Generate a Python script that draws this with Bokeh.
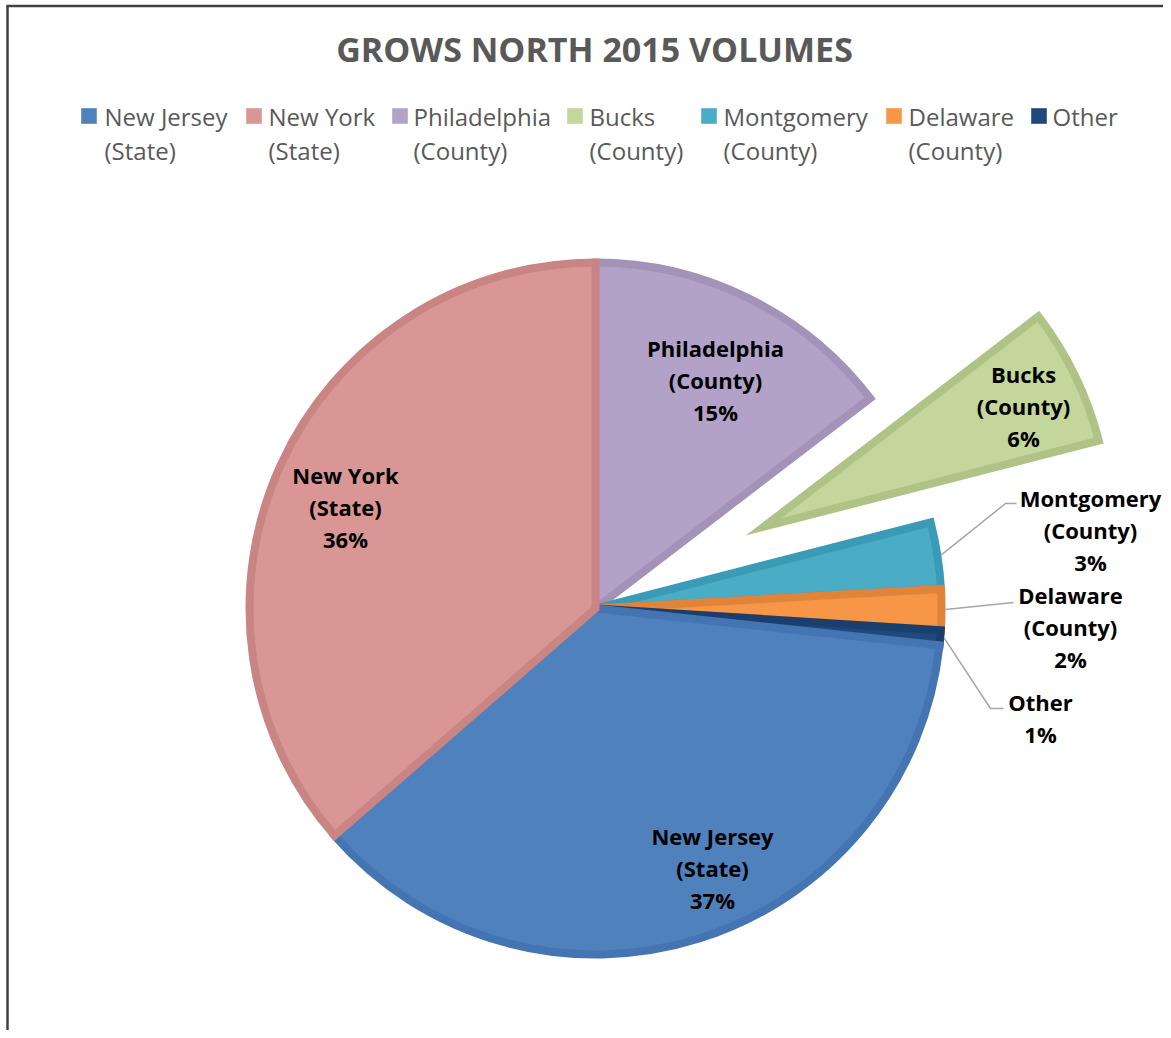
import math
from bokeh.plotting import figure
from bokeh.models import Range1d, ColumnDataSource
from bokeh.core.properties import value
from bokeh.embed import file_html
from bokeh.resources import INLINE

# ---------------- data ----------------
slice_names = ["Philadelphia", "Bucks", "Montgomery", "Delaware", "Other", "New Jersey", "New York"]
slice_kinds = ["(County)", "(County)", "(County)", "(County)", "", "(State)", "(State)"]
slice_shares = [14.6, 6.4, 3.1, 1.9, 0.7, 36.9, 36.4]
slice_fills = ["#b2a2c7", "#c3d69b", "#4bacc6", "#f79646", "#1f497d", "#4f81bd", "#d99694"]
slice_edges = ["#a393b9", "#afc387", "#3b9ab5", "#e0843a", "#1a3f6e", "#4475b2", "#c98584"]
slice_explode = [0, 187, 0, 0, 0, 0, 0]

legend_names = ["New Jersey", "New York", "Philadelphia", "Bucks", "Montgomery", "Delaware", "Other"]
legend_kinds = ["(State)", "(State)", "(County)", "(County)", "(County)", "(County)", ""]

title_text = "GROWS NORTH 2015 VOLUMES"

# ---------------- layout ----------------
W, H = 1163, 1030
FONT = "Open Sans"
GREY = "#595959"


def X(sx):
    return sx


def Y(sy):
    return H - sy


CX, CY, R = X(595), Y(608), 350

label_pos = {  # screen centre of each data label block
    "Philadelphia": (715, 379),
    "Bucks": (1023, 405),
    "Montgomery": (1090, 529),
    "Delaware": (1070, 626),
    "Other": (1040, 717),
    "New Jersey": (712, 867),
    "New York": (345, 506),
}
LINE_H = 32
leader_pts = {  # elbow/end points of leader lines (screen)
    "Montgomery": [(1005, 503), (1016, 503)],
    "Delaware": [(1013, 602)],
    "Other": [(990, 708), (1003, 708)],
}
legend_swatch_x = [80, 245, 391, 566, 700, 885, 1030]
legend_text_x = [104, 268, 413, 589, 723, 908, 1052]

p = figure(width=W, height=H, x_range=Range1d(0, W), y_range=Range1d(0, H),
           output_backend="svg", toolbar_location=None, min_border=0)
p.xaxis.visible = False
p.yaxis.visible = False
p.grid.visible = False
p.outline_line_color = None
p.background_fill_color = "white"

# frame lines (left and top)
p.line([X(7), X(7)], [0, Y(5)], line_color="#404040", line_width=2.5)
p.line([X(6), W], [Y(5.5), Y(5.5)], line_color="#404040", line_width=2.5)

# ---------------- pie ----------------
total = sum(slice_shares)
cum = 0.0
xs, ys, starts, ends, mids = [], [], [], [], []
for share, exp in zip(slice_shares, slice_explode):
    t1 = cum / total * 2 * math.pi
    t2 = (cum + share) / total * 2 * math.pi
    cum += share
    tm = (t1 + t2) / 2
    mids.append(tm)
    xs.append(CX + exp * math.sin(tm))
    ys.append(CY + exp * math.cos(tm))
    starts.append(math.pi / 2 - t2)
    ends.append(math.pi / 2 - t1)

src = ColumnDataSource(dict(x=xs, y=ys, start=starts, end=ends,
                            fill=slice_fills, edge=slice_edges))
p.wedge(x="x", y="y", radius=R - 4, start_angle="start", end_angle="end",
        fill_color="fill", line_color="edge", line_width=8, line_join="miter",
        source=src)

# leader lines
for name, pts in leader_pts.items():
    i = slice_names.index(name)
    tm = mids[i]
    lx = [xs[i] + R * math.sin(tm)] + [X(a) for a, b in pts]
    ly = [ys[i] + R * math.cos(tm)] + [Y(b) for a, b in pts]
    p.line(lx, ly, line_color="#a6a6a6", line_width=1.5)

# data labels (one glyph row per text line)
lab_x, lab_y, lab_t = [], [], []
for name, kind, share in zip(slice_names, slice_kinds, slice_shares):
    pct = f"{round(share / total * 100):d}%"
    lines = [name] + ([kind] if kind else []) + [pct]
    sx, sy = label_pos[name]
    n = len(lines)
    for k, ln in enumerate(lines):
        lab_x.append(X(sx))
        lab_y.append(Y(sy + (k - (n - 1) / 2) * LINE_H))
        lab_t.append(ln)
p.text(x=lab_x, y=lab_y, text=lab_t, text_font=value(FONT), text_font_style="bold",
       text_font_size="22px", text_color="black", text_align="center",
       text_baseline="middle")

# ---------------- title ----------------
p.text(x=[X(594)], y=[Y(48)], text=[title_text], text_font=value(FONT),
       text_font_style="bold", text_font_size="34px", text_color=GREY,
       text_align="center", text_baseline="middle")

# ---------------- legend ----------------
fill_by_name = dict(zip(slice_names, slice_fills))
sw_x = [X(sx + 8.5) for sx in legend_swatch_x]
sw_y = [Y(115.5)] * len(legend_names)
sw_c = [fill_by_name[n] for n in legend_names]
p.rect(x=sw_x, y=sw_y, width=16, height=16, fill_color=sw_c, line_color="white",
       line_alpha=0.4, line_width=1)
p.text(x=[X(t) for t in legend_text_x], y=[Y(116)] * len(legend_names), text=legend_names,
       text_font=value(FONT), text_font_size="24px", text_color=GREY,
       text_align="left", text_baseline="middle")
p.text(x=[X(t) for t in legend_text_x], y=[Y(150)] * len(legend_names), text=legend_kinds,
       text_font=value(FONT), text_font_size="24px", text_color=GREY,
       text_align="left", text_baseline="middle")

open("out.html", "w").write(file_html(p, INLINE))
